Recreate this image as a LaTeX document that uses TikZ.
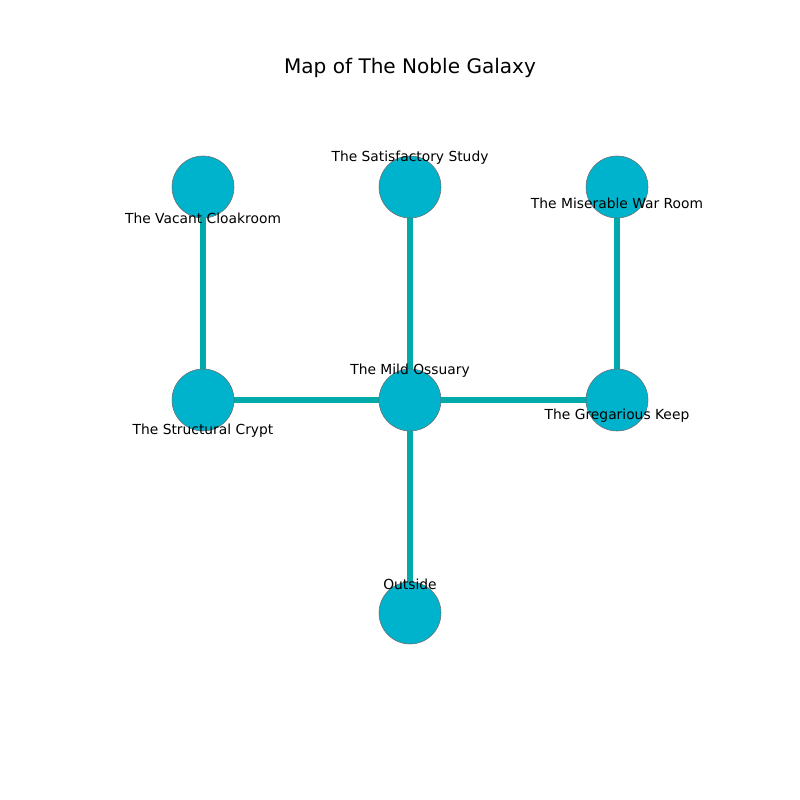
\documentclass[tikz,border=0pt]{standalone}
\usepackage{fontspec}
\setmainfont{DejaVu Sans}
\definecolor{roomcyan}{RGB}{0,179,204}
\definecolor{pathteal}{RGB}{0,170,170}
\definecolor{rimgrey}{RGB}{110,110,110}
\usetikzlibrary{positioning, backgrounds}

\begin{document}
\begin{tikzpicture}[x=0.0254cm, y=-0.0254cm,
  room/.style={circle, fill=roomcyan, draw=rimgrey, line width=0.4pt,
    minimum size=1.575cm, inner sep=0pt},
  passage/.style={draw=pathteal, line width=3.8pt},
  tag/.style={font=\fontsize{10}{12}\selectfont, inner sep=0pt},
]
  \useasboundingbox (0,0) rectangle (800,800);
  \node[font=\fontsize{14.5}{17}\selectfont] (title) at (410,68) {Map of The Noble Galaxy};

  % rooms
  \node[room] (cloak) at (203,187) {};
  \node[room] (study) at (410,187) {};
  \node[room] (war) at (617,187) {};
  \node[room] (crypt) at (203,400) {};
  \node[room] (ossuary) at (410,400) {};
  \node[room] (keep) at (617,400) {};
  \node[room] (outside) at (410,613) {};

  % passages
  \begin{scope}[on background layer]
    \path[passage] (cloak) -- (crypt);
    \path[passage] (study) -- (ossuary);
    \path[passage] (war) -- (keep);
    \path[passage] (crypt) -- (ossuary);
    \path[passage] (ossuary) -- (keep);
    \path[passage] (ossuary) -- (outside);
  \end{scope}

  % labels
  \node[tag] (cloaktag) at (203,218) {The Vacant Cloakroom};
  \node[tag] (studytag) at (410,158) {The Satisfactory Study};
  \node[tag] (wartag) at (617,203) {The Miserable War Room};
  \node[tag] (ossuarytag) at (410,371) {The Mild Ossuary};
  \node[tag] (crypttag) at (203,431) {The Structural Crypt};
  \node[tag] (keeptag) at (617,416) {The Gregarious Keep};
  \node[tag] (outsidetag) at (410,584) {Outside};
\end{tikzpicture}
\end{document}
